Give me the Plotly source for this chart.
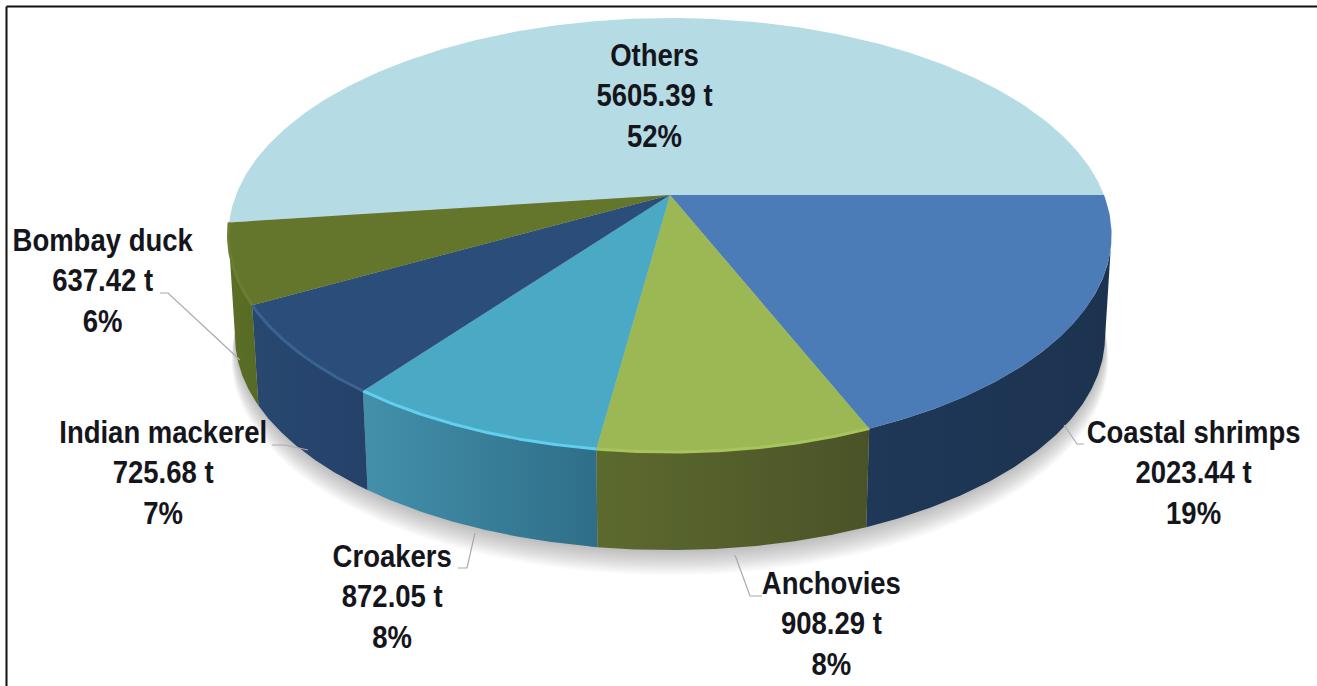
import numpy as np
import plotly.graph_objects as go

categories = ["Coastal shrimps", "Anchovies", "Croakers", "Indian mackerel", "Bombay duck", "Others"]
tonnes = [2023.44, 908.29, 872.05, 725.68, 637.42, 5605.39]
percent = [19, 8, 8, 7, 6, 52]

top_colors = ["#4c7cb7", "#9bb855", "#4aa9c5", "#2b4d7a", "#64752c", "#b5dbe4"]
wall_left = ["#1f3858", "#5d6a2e", "#4390ab", "#284870", "#5b6f28", "#b5dbe4"]
wall_right = ["#1c3350", "#4a5328", "#2f6e88", "#24416a", "#566a24", "#b5dbe4"]
rim_colors = ["#4c7cb7", "#a8c45c", "#62cfee", "#3a6390", "#6a7e30", "#b5dbe4"]

label_pos = [(1193.5, 473), (831, 624), (392, 597), (163, 473), (103, 281), (654, 96)]
leaders = [
    [(1084, 444), (1077, 444), (1064, 425)],
    [(762, 596), (750, 596), (735, 555)],
    [(458, 568), (467, 568), (475, 533)],
    [(272, 445), (285, 445), (308, 450)],
    [(160, 293), (168, 293), (240, 360)],
]

# perspective view of the disc
CX, CY, R, A, K = 670.0, 195.0, 434.0, 209.6, 0.1844
WALL_CY, WALL_S = 297.0, 0.985


def proj(t, cy=CY, s=1.0):
    d = 1 - K * np.sin(t)
    return CX + s * R * np.cos(t) / d, cy + s * A * np.sin(t) / d


edges = np.radians(np.concatenate([[0], np.cumsum(tonnes)]) / sum(tonnes) * 360)
tangent = np.arcsin(K)  # where the outline is widest, left and right

fig = go.Figure()


def poly(x, y, color=None, grad=None):
    kw = dict(x=x, y=y, mode="lines", fill="toself", line=dict(width=0, color="rgba(0,0,0,0)"),
              hoverinfo="skip", showlegend=False)
    if grad is not None:
        kw["fillgradient"] = dict(type="horizontal", colorscale=[[0, grad[0]], [1, grad[1]]])
    else:
        kw["fillcolor"] = color
    fig.add_trace(go.Scatter(**kw))


# soft shadow under the disc
full = np.linspace(0, 2 * np.pi, 361)
for i in range(14):
    sx, sy = proj(full, WALL_CY + 2 + i * 1.6, WALL_S + 0.0006 * i)
    poly(sx, sy, color="rgba(90,90,90,0.032)")

# walls
for i in range(5):
    a0 = tangent if i == 0 else edges[i]
    a1 = np.pi - tangent if i == 4 else edges[i + 1]
    t = np.linspace(a0, a1, 90)
    x1, y1 = proj(t)
    x2, y2 = proj(t[::-1], WALL_CY, WALL_S)
    poly(np.r_[x1, x2, x1[0]], np.r_[y1, y2, y1[0]], grad=(wall_left[i], wall_right[i]))

# top faces, Others first so the nearer slices overlap its edges
for i in [5, 0, 1, 2, 3, 4]:
    t = np.linspace(edges[i], edges[i + 1], 240 if i == 5 else 90)
    x, y = proj(t)
    poly(np.r_[CX, x, CX], np.r_[CY, y, CY], color=top_colors[i])
    if i in (1, 2, 3, 4):
        fig.add_trace(go.Scatter(x=x, y=y, mode="lines", line=dict(width=3, color=rim_colors[i]),
                                 hoverinfo="skip", showlegend=False))

# leader lines
for pts in leaders:
    fig.add_trace(go.Scatter(x=[p[0] for p in pts], y=[p[1] for p in pts], mode="lines",
                             line=dict(width=1.2, color="#a9a9a9"), hoverinfo="skip", showlegend=False))

for name, val, pct, (lx, ly) in zip(categories, tonnes, percent, label_pos):
    fig.add_annotation(x=lx, y=ly, text=f"<b>{name}<br>{val:.2f} t<br>{pct}%</b>", showarrow=False,
                       xanchor="center", yanchor="middle", align="center",
                       font=dict(family="Liberation Sans", size=31, color="#15151c"))

fig.add_shape(type="line", x0=6.5, x1=6.5, y0=6.5, y1=686, line=dict(color="#111", width=2))
fig.add_shape(type="line", x0=6.5, x1=1317, y0=6.5, y1=6.5, line=dict(color="#111", width=2))

fig.update_xaxes(range=[0, 1317], visible=False, fixedrange=True)
fig.update_yaxes(range=[686, 0], visible=False, fixedrange=True)
fig.update_layout(width=1317, height=686, margin=dict(l=0, r=0, t=0, b=0),
                  paper_bgcolor="white", plot_bgcolor="white", showlegend=False)

# no narrow bold face is installed: condense the label text about its own centre
post = """
document.body.style.margin='0';document.body.style.overflow='hidden';
function condense(){
  document.querySelectorAll('.annotation-text').forEach(function(t){
    var b=t.getBBox(), c=b.x+b.width/2;
    t.setAttribute('transform','translate('+c+',0) scale(0.887,1) translate('+(-c)+',0)');
  });
}
condense(); setTimeout(condense,30); setTimeout(condense,200);
"""
fig.write_html("out.html", config={"displayModeBar": False}, post_script=post)
